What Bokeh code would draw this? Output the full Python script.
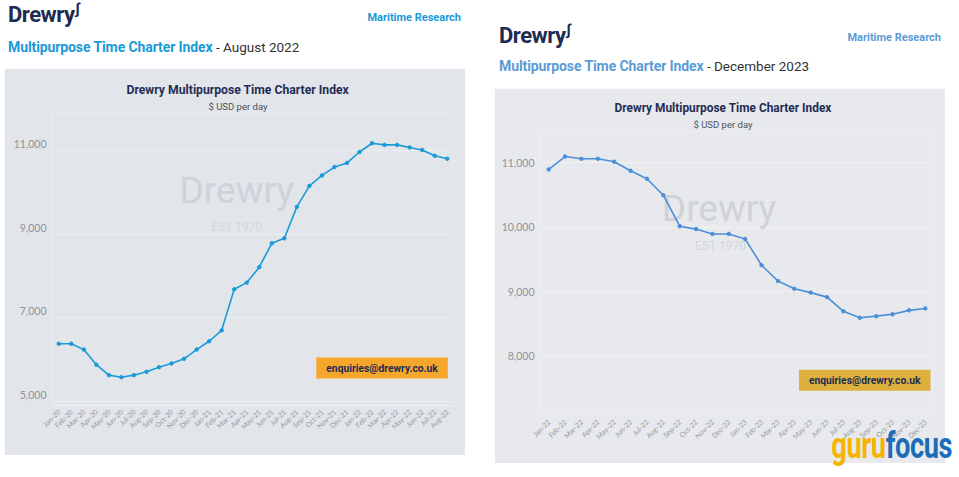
import math
from bokeh.plotting import figure
from bokeh.models import (FactorRange, Range1d, Title, Label, Div, NumeralTickFormatter,
                          FixedTicker, LinearAxis)
from bokeh.layouts import row, column
from bokeh.embed import file_html
from bokeh.resources import INLINE

# ---------------- data ----------------
left_months = ["Jan-20", "Feb-20", "Mar-20", "Apr-20", "May-20", "Jun-20", "Jul-20", "Aug-20",
               "Sep-20", "Oct-20", "Nov-20", "Dec-20", "Jan-21", "Feb-21", "Mar-21", "Apr-21",
               "May-21", "Jun-21", "Jul-21", "Aug-21", "Sep-21", "Oct-21", "Nov-21", "Dec-21",
               "Jan-22", "Feb-22", "Mar-22", "Apr-22", "May-22", "Jun-22", "Jul-22", "Aug-22"]
left_values = [6380, 6380, 6240, 5880, 5630, 5580, 5630, 5710, 5820, 5910, 6020, 6240,
               6440, 6700, 7680, 7840, 8210, 8780, 8900, 9650, 10150, 10400, 10600, 10700,
               10960, 11170, 11130, 11130, 11070, 11010, 10870, 10800]
left_ticks = [5000, 7000, 9000, 11000]

right_months = ["Jan-22", "Feb-22", "Mar-22", "Apr-22", "May-22", "Jun-22", "Jul-22", "Aug-22",
                "Sep-22", "Oct-22", "Nov-22", "Dec-22", "Jan-23", "Feb-23", "Mar-23", "Apr-23",
                "May-23", "Jun-23", "Jul-23", "Aug-23", "Sep-23", "Oct-23", "Nov-23", "Dec-23"]
right_values = [10900, 11100, 11065, 11065, 11020, 10880, 10755, 10500, 10020, 9975, 9900, 9900,
                9820, 9415, 9170, 9050, 8990, 8920, 8700, 8600, 8625, 8655, 8715, 8745]
right_ticks = [8000, 9000, 10000, 11000]

NAVY = "#1f2d55"
FONT = "Roboto"


def style_yaxis(ax, ticks):
    ax.ticker = FixedTicker(ticks=ticks)
    ax.formatter = NumeralTickFormatter(format="0,0")
    ax.major_label_text_font = "Lato"
    ax.major_label_text_font_size = "10.5px"
    ax.major_label_text_color = "#8e939c"
    ax.major_tick_line_color = None
    ax.major_tick_out = 0
    ax.major_tick_in = 0
    ax.minor_tick_line_color = None
    ax.axis_line_color = "#eceef1"
    ax.major_label_standoff = 6


def make_panel(months, values, ticks, yr, width, height, borders, bg, grid, line_color,
               title_off, title_size, sub_off, email_pos, email_color, wm_pos, est_pos,
               label_lift):
    p = figure(width=width, height=height,
               x_range=FactorRange(factors=months, range_padding=0),
               y_range=Range1d(*yr),
               output_backend="svg", toolbar_location=None, title_location=None,
               min_border_left=borders[0], min_border_right=borders[1],
               min_border_top=borders[2], min_border_bottom=borders[3],
               background_fill_color=bg, border_fill_color=bg, outline_line_color=None)
    p.add_layout(Title(text="$ USD per day", align="left", text_font=FONT,
                       text_font_size="9.5px", text_font_style="normal",
                       text_color="#4a5266", offset=sub_off, standoff=3), "above")
    p.add_layout(Title(text="Drewry Multipurpose Time Charter Index", align="left",
                       text_font=FONT, text_font_size=title_size, text_font_style="bold",
                       text_color=NAVY, offset=title_off, standoff=1), "above")

    # watermark
    p.add_layout(Label(x=wm_pos[0], y=wm_pos[1], text="Drewry", text_font=FONT,
                       text_font_size="37px", text_color="#cfd2da", text_align="center",
                       text_baseline="middle", level="underlay"))
    p.add_layout(Label(x=est_pos[0], y=est_pos[1], text="EST 1970", text_font=FONT,
                       text_font_size="12px", text_color="#d3d6dd", text_align="center",
                       text_baseline="middle", level="underlay"))

    p.line(x=months, y=values, line_color=line_color, line_width=1.6)
    p.scatter(x=months, y=values, size=3.5, fill_color=line_color, line_color=line_color)

    p.add_layout(Label(x=email_pos[0], y=email_pos[1], text="enquiries@drewry.co.uk",
                       text_font=FONT, text_font_size="10.3px", text_font_style="bold",
                       text_color=NAVY, text_align="center", text_baseline="middle",
                       background_fill_color=email_color,
                       padding=dict(left=10, right=10, top=4, bottom=4)))

    style_yaxis(p.yaxis[0], ticks)
    p.ygrid.ticker = FixedTicker(ticks=ticks)
    if label_lift:
        # tick labels in the reference sit slightly above their grid lines
        p.extra_y_ranges = {"lab": Range1d(yr[0] - label_lift, yr[1] - label_lift)}
        p.yaxis[0].visible = False
        ax = LinearAxis(y_range_name="lab")
        style_yaxis(ax, ticks)
        p.add_layout(ax, "left")

    p.xaxis.major_label_orientation = math.pi / 4
    p.xaxis.major_label_text_font = "Lato"
    p.xaxis.major_label_text_font_size = "7px"
    p.xaxis.major_label_text_color = "#959aa3"
    p.xaxis.major_tick_line_color = None
    p.xaxis.major_tick_out = 0
    p.xaxis.major_tick_in = 0
    p.xaxis.axis_line_color = "#eceef1"
    p.xaxis.major_label_standoff = 5

    p.xgrid.grid_line_color = None
    p.ygrid.grid_line_color = grid
    p.ygrid.grid_line_width = 1
    return p


# left panel: frame x 52..453, y 113..405
pl = make_panel(left_months, left_values, left_ticks, (4905, 11880), 461, 387,
                (48, 12, 45, 50), "#e2e5e9", "#eceef1", "#1a9bd7", 74, "12.2px", 156,
                (26.3, 5800), "#f6a62b", (14.7, 10050), (14.7, 9170), 155)

# right panel: frame x 540..933, y 131..415
pr = make_panel(right_months, right_values, right_ticks, (7085, 11488), 451, 375,
                (46, 12, 43, 48), "#e8e9ec", "#f1f1f3", "#4a8fd8", 74, "11.9px", 153,
                (19.8, 7630), "#ddb03c", (10.9, 10295), (11.0, 9720), 0)


def header(width, height, logo_top, mr_top, mr_right, mr_color, title_top, period, left_off):
    html = (
        f'<div style="position:relative;width:{width}px;height:{height}px;font-family:Roboto;">'
        f'<div style="position:absolute;left:{left_off}px;top:{logo_top}px;font-size:22px;'
        f'font-weight:700;color:#1c2b52;letter-spacing:-0.5px;white-space:nowrap;">Drewry'
        f'<span style="font-size:15px;color:#1c2b52;vertical-align:top;margin-left:1px;">&#8747;</span></div>'
        f'<div style="position:absolute;right:{mr_right}px;top:{mr_top}px;font-size:11px;font-weight:700;'
        f'color:{mr_color};white-space:nowrap;">Maritime Research</div>'
        f'<div style="position:absolute;left:{left_off}px;top:{title_top}px;font-size:13.5px;'
        f'color:#333;white-space:nowrap;"><span style="font-weight:700;color:{mr_color};'
        f'font-size:14px;letter-spacing:-0.1px;">Multipurpose Time Charter Index</span> - {period}</div>'
        f'</div>'
    )
    return Div(text=html, width=width, height=height, margin=(0, 0, 0, 0))


hl = header(461, 68, -1, 10, 4, "#1a9ad6", 37, "August 2022", 4)
hr = header(451, 88, 20, 30, 4, "#5b9bd5", 56, "December 2023", 5)

gf = Div(width=457, height=2, margin=(0, 0, 0, 0), text=(
    '<div style="position:relative;width:457px;height:2px;">'
    '<div style="position:absolute;right:-1px;top:-45px;font-family:Roboto;font-weight:700;'
    'font-size:36px;line-height:1;white-space:nowrap;transform:scaleX(0.755);'
    'transform-origin:right top;letter-spacing:-0.5px;">'
    '<span style="color:#f5b400;">guru</span><span style="color:#1c6db8;">focus</span></div></div>'))

layout = row(column(hl, pl), column(hr, pr, gf), spacing=29, margin=(0, 0, 0, 4))

open("out.html", "w").write(file_html(layout, INLINE))
